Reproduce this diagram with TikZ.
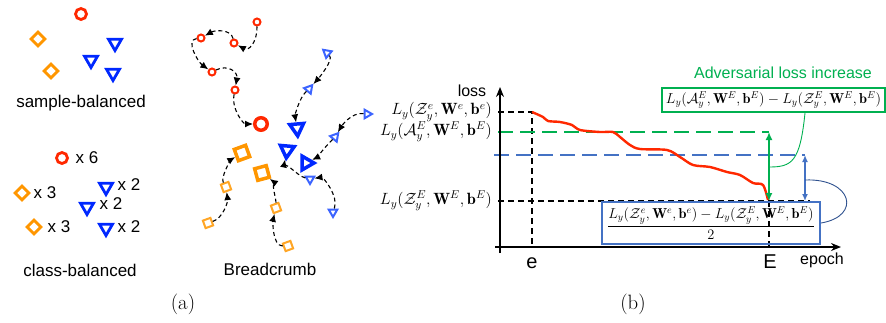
\RequirePackage{fix-cm}
\documentclass[tikz,border=0pt]{standalone}
\usepackage{fontspec}
\setsansfont{Liberation Sans}
\usepackage{amsmath}
\usetikzlibrary{arrows.meta, shapes.geometric, calc}
\definecolor{ptRed}{RGB}{255,40,0}
\definecolor{ptOrange}{RGB}{255,150,0}
\definecolor{ptBlue}{RGB}{0,40,255}
\definecolor{ptLightBlue}{RGB}{60,100,255}
\definecolor{ptGreen}{RGB}{0,176,80}
\definecolor{boxBlue}{RGB}{68,114,196}
\definecolor{linkBlue}{RGB}{47,82,143}
\tikzset{
    redmark/.style={circle, draw=ptRed, line width=2.8pt, minimum size=11pt, inner sep=0pt},
    orangemark/.style={diamond, draw=ptOrange, line width=2.8pt, minimum size=15pt, inner sep=0pt},
    bluemark/.style={regular polygon, regular polygon sides=3, shape border rotate=180,
        draw=ptBlue, line width=2.8pt, minimum size=15pt, inner sep=0pt},
    redcrumb/.style={circle, draw=ptRed, line width=2pt, minimum size=7pt, inner sep=0pt},
    redgoal/.style={circle, draw=ptRed, line width=3.5pt, minimum size=12.5pt, inner sep=0pt},
    bluecrumb/.style={regular polygon, regular polygon sides=3, draw=ptLightBlue,
        line width=2pt, minimum size=10pt, inner sep=0pt},
    bluegoal/.style={regular polygon, regular polygon sides=3, draw=ptBlue,
        line width=3.5pt, minimum size=16pt, inner sep=0pt},
    orangecrumb/.style={rectangle, draw=ptOrange!85, line width=2pt, minimum size=8pt, inner sep=0pt},
    orangegoal/.style={rectangle, draw=ptOrange, line width=3.5pt, minimum size=12pt, inner sep=0pt},
    crumbarrow/.style={line width=1.1pt, dash pattern=on 4pt off 3pt, -{Latex[length=8pt,width=7pt]}},
    sflabel/.style={font=\sffamily\fontsize{17}{20}\selectfont, inner sep=0pt},
    countlabel/.style={font=\sffamily\fontsize{17}{20}\selectfont, inner sep=0pt},
    mathlabel/.style={font=\fontsize{16.3}{19}\selectfont, anchor=east, inner sep=0pt},
    axisline/.style={line width=1.4pt, -{Stealth[length=10pt,width=8pt]}},
    guide/.style={line width=1.1pt, dash pattern=on 6pt off 4pt},
    advline/.style={ptGreen, line width=2.6pt, dash pattern=on 15pt off 7pt},
    halfline/.style={boxBlue, line width=2.6pt, dash pattern=on 15pt off 7pt},
    losscurve/.style={ptRed, line width=2.4pt},
    advbox/.style={draw=ptGreen, line width=2pt, minimum width=223pt, minimum height=24pt,
        inner sep=1pt, font=\fontsize{14.4}{16}\selectfont},
    halfbox/.style={draw=boxBlue, line width=2.2pt, minimum width=218pt, minimum height=42pt,
        inner sep=1pt, font=\fontsize{14.4}{16}\selectfont},
    caption/.style={font=\fontsize{20.74}{24}\selectfont, inner sep=0pt}
}
\begin{document}
\begin{tikzpicture}[x=1pt, y=-1pt]
    \useasboundingbox (0,0) rectangle (886,322);
    % (a) sample-balanced
    \node[redmark] (sr1) at (81,14) {};
    \node[orangemark] (so1) at (38,39) {};
    \node[orangemark] (so2) at (51,71) {};
    \node[bluemark] (sb1) at (115,43) {};
    \node[bluemark] (sb2) at (91,60) {};
    \node[bluemark] (sb3) at (113,73) {};
    \node[sflabel] (sbal) at (81,103) {sample-balanced};
    % (a) class-balanced
    \node[redmark] (cr1) at (62,158) {};
    \node[countlabel] (cr1n) at (87,158) {x 6};
    \node[orangemark] (co1) at (22,193) {};
    \node[countlabel] (co1n) at (45,193) {x 3};
    \node[orangemark] (co2) at (34,227) {};
    \node[countlabel] (co2n) at (59,227) {x 3};
    \node[bluemark] (cb1) at (106,187) {};
    \node[countlabel] (cb1n) at (129,185) {x 2};
    \node[bluemark] (cb2) at (87,207) {};
    \node[countlabel] (cb2n) at (111,204) {x 2};
    \node[bluemark] (cb3) at (106,228) {};
    \node[countlabel] (cb3n) at (129,227) {x 2};
    \node[sflabel] (cbal) at (80,270) {class-balanced};
    % (a) breadcrumb
    \node[redcrumb] (r1) at (257,22) {};
    \node[redcrumb] (r2) at (234,43) {};
    \node[redcrumb] (r3) at (201,38) {};
    \node[redcrumb] (r4) at (212,72) {};
    \node[redcrumb] (r5) at (235,90) {};
    \node[redgoal] (rg) at (261,124) {};
    \draw[crumbarrow] (r1) .. controls +(0,22) and +(14,8) .. (r2);
    \draw[crumbarrow] (r2) .. controls +(-3,-14) and +(14,-8) .. (r3);
    \draw[crumbarrow] (r3) .. controls +(-16,2) and +(-14,-10) .. (r4);
    \draw[crumbarrow] (r4) .. controls +(16,-8) and +(3,-18) .. (r5);
    \draw[crumbarrow] (r5) .. controls +(-4,18) and +(-18,0) .. (rg);
    \node[bluecrumb, shape border rotate=170] (b1) at (327,53) {};
    \node[bluecrumb, shape border rotate=200] (b2) at (309,89) {};
    \node[bluegoal, shape border rotate=185] (bg1) at (297,128) {};
    \draw[crumbarrow] (b1) .. controls +(7,7) and +(9,-10) .. (b2);
    \draw[crumbarrow] (b2) .. controls +(-10,9) and +(-2,-12) .. (bg1);
    \node[bluecrumb, shape border rotate=-90] (b3) at (367,114) {};
    \node[bluecrumb, shape border rotate=200] (b4) at (335,137) {};
    \node[bluegoal, shape border rotate=-90] (bg2) at (306,163) {};
    \draw[crumbarrow] (b3) .. controls +(-16,-2) and +(6,-10) .. (b4);
    \draw[crumbarrow] (b4) .. controls +(-10,10) and +(10,-5) .. (bg2);
    \node[bluecrumb, shape border rotate=180] (b5) at (333,212) {};
    \node[bluecrumb, shape border rotate=180] (b6) at (310,179) {};
    \node[bluegoal, shape border rotate=175] (bg3) at (287,150) {};
    \draw[crumbarrow] (b5) .. controls +(6,-16) and +(13,-2) .. (b6);
    \draw[crumbarrow] (b6) .. controls +(-13,-3) and +(-2,10) .. (bg3);
    \node[orangecrumb, rotate=20] (o1) at (208,223) {};
    \node[orangecrumb, rotate=20] (o2) at (226,187) {};
    \node[orangegoal, rotate=20] (og1) at (242,153) {};
    \draw[crumbarrow] (o1) .. controls +(15,-5) and +(2,15) .. (o2);
    \draw[crumbarrow] (o2) .. controls +(-6,-10) and +(-10,6) .. (og1);
    \node[orangecrumb, rotate=20] (o3) at (288,246) {};
    \node[orangecrumb, rotate=20] (o4) at (276,208) {};
    \node[orangegoal, rotate=15] (og2) at (262,173) {};
    \draw[crumbarrow] (o3) .. controls +(-16,0) and +(-3,12) .. (o4);
    \draw[crumbarrow] (o4) .. controls +(0,-10) and +(8,6) .. (og2);
    \node[sflabel] (bcrumb) at (270,269) {Breadcrumb};
    \node[caption] (capa) at (183,304) {(a)};
    % (b) loss curve
    \coordinate (orig) at (500,247);
    \coordinate (ytop) at (500,87);
    \coordinate (xend) at (841,247);
    \draw[guide] (498,112) -- (532,112) -- (532,247);
    \draw[guide] (498,201) -- (810,201);
    \draw[guide] (769,201) -- (769,247);
    \draw[advline] (498,132) -- (769,132);
    \draw[halfline] (494,155) -- (805,155);
    \draw[losscurve] plot[smooth, tension=0.5] coordinates {(532,112) (543,117) (548,121)
        (560,122) (572,125) (580,130) (600,132) (613,132) (620,137) (630,145) (640,149)
        (667,150) (680,157) (693,165) (710,167) (727,172) (740,175) (753,183) (763,185) (768,200)};
    \draw[axisline] (500,253) -- (ytop);
    \draw[axisline] (495,247) -- (xend);
    \node[sflabel, font=\sffamily\fontsize{16}{18}\selectfont] (lossl) at (472,91) {loss};
    \node[sflabel, font=\sffamily\fontsize{16}{18}\selectfont] (epochl) at (822,260) {epoch};
    \node[sflabel, font=\sffamily\fontsize{20}{22}\selectfont] (el) at (532,263) {e};
    \node[sflabel, font=\sffamily\fontsize{20}{22}\selectfont] (bigel) at (770,262) {E};
    \node[mathlabel] (lze) at (492,112) {$L_y(\mathcal{Z}_y^e,\mathbf{W}^e,\mathbf{b}^e)$};
    \node[mathlabel] (lae) at (492,132) {$L_y(\mathcal{A}_y^E,\mathbf{W}^E,\mathbf{b}^E)$};
    \node[mathlabel] (lzbig) at (492,201) {$L_y(\mathcal{Z}_y^E,\mathbf{W}^E,\mathbf{b}^E)$};
    \coordinate (gtop) at (769,132);
    \coordinate (gbot) at (769,201);
    \coordinate (gmid) at (769,167);
    \coordinate (btop) at (805,155);
    \coordinate (bbot) at (805,201);
    \coordinate (bmid) at (805,180);
    \draw[ptGreen, line width=2pt, {Latex[length=8pt,width=7pt]}-{Latex[length=8pt,width=7pt]}] (gtop) -- (gbot);
    \draw[boxBlue, line width=1.6pt, {Latex[length=7pt,width=6pt]}-{Latex[length=7pt,width=6pt]}] (btop) -- (bbot);
    \node[sflabel, font=\sffamily\fontsize{16}{18}\selectfont, text=ptGreen] (advtitle) at (783,73) {Adversarial loss increase};
    \node[advbox] (advbox) at (773.5,100)
        {$L_y(\mathcal{A}_y^E,\mathbf{W}^E,\mathbf{b}^E)-L_y(\mathcal{Z}_y^E,\mathbf{W}^E,\mathbf{b}^E)$};
    \node[halfbox] (halfbox) at (711,223)
        {$\displaystyle\frac{L_y(\mathcal{Z}_y^e,\mathbf{W}^e,\mathbf{b}^e)-L_y(\mathcal{Z}_y^E,\mathbf{W}^E,\mathbf{b}^E)}{2}$};
    \draw[ptGreen, line width=0.9pt] ($(advbox.south west)!0.64!(advbox.south east)$)
        .. controls (800,162) and (792,167) .. (gmid);
    \draw[linkBlue, line width=0.9pt] (bmid) .. controls (852,178) and (862,216) .. (halfbox.east);
    \node[caption] (capb) at (633,304) {(b)};
\end{tikzpicture}
\end{document}
